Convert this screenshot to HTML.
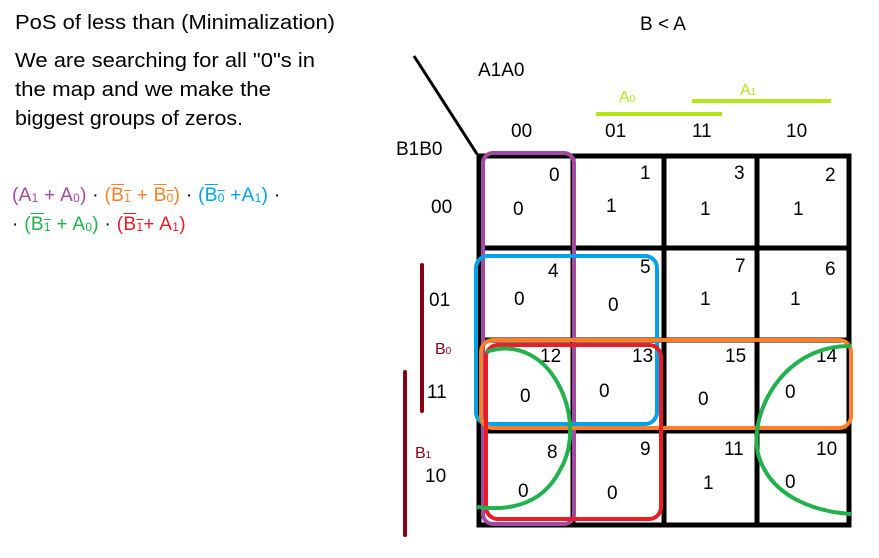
<!DOCTYPE html>
<html><head><meta charset="utf-8"><style>
body{margin:0;background:#fff;width:879px;height:558px;overflow:hidden;font-family:"Liberation Sans",sans-serif;position:relative}
svg text{font-family:"Liberation Sans",sans-serif}
.f{position:absolute;left:12px;font-size:19px;white-space:nowrap;letter-spacing:0.3px}
.f sub{font-size:12px;vertical-align:-1px}
.o{text-decoration:overline}
</style></head><body>
<svg width="879" height="558" style="position:absolute;left:0;top:0">
<g font-size="20" fill="#000">
<text x="15" y="29" textLength="320" lengthAdjust="spacingAndGlyphs">PoS of less than (Minimalization)</text>
<text x="15" y="67" textLength="300" lengthAdjust="spacingAndGlyphs">We are searching for all "0"s in</text>
<text x="15" y="96" textLength="256" lengthAdjust="spacingAndGlyphs">the map and we make the</text>
<text x="15" y="125" textLength="228" lengthAdjust="spacingAndGlyphs">biggest groups of zeros.</text>
</g>
<g font-size="19">
<text x="640" y="30">B &lt; A</text>
<text x="478" y="76">A1A0</text>
<text x="396" y="155">B1B0</text>
<text x="511" y="137">00</text><text x="605" y="137">01</text><text x="692" y="137">11</text><text x="786" y="137">10</text>
<text x="431" y="213">00</text><text x="429" y="306">01</text><text x="427" y="398">11</text><text x="425" y="482">10</text>
</g>
<line x1="414" y1="56" x2="477" y2="154" stroke="#000" stroke-width="3"/>
<g>
<line x1="596" y1="114" x2="722" y2="114" stroke="#b5e61d" stroke-width="4"/>
<line x1="692" y1="101" x2="831" y2="101" stroke="#b5e61d" stroke-width="4"/>
<text x="619" y="102" fill="#b5e61d" font-size="16">A<tspan font-size="10">0</tspan></text>
<text x="740" y="95" fill="#b5e61d" font-size="16">A<tspan font-size="10">1</tspan></text>
</g>
<g>
<line x1="422" y1="265" x2="422" y2="411" stroke="#880015" stroke-width="4" stroke-linecap="round"/>
<line x1="405" y1="372" x2="405" y2="535" stroke="#880015" stroke-width="4" stroke-linecap="round"/>
<text x="435" y="354" fill="#880015" font-size="16">B<tspan font-size="10">0</tspan></text>
<text x="415" y="458" fill="#880015" font-size="16">B<tspan font-size="10">1</tspan></text>
</g>
<g stroke="#000" stroke-width="5" fill="none">
<rect x="479" y="156" width="370" height="369"/>
<line x1="573" y1="156" x2="573" y2="525"/>
<line x1="664" y1="156" x2="664" y2="525"/>
<line x1="757" y1="156" x2="757" y2="525"/>
<line x1="479" y1="248" x2="849" y2="248"/>
<line x1="479" y1="340" x2="849" y2="340"/>
<line x1="479" y1="431" x2="849" y2="431"/>
</g>
<g font-size="19">
<text x="549" y="181">0</text><text x="640" y="179">1</text><text x="734" y="179">3</text><text x="825" y="181">2</text>
<text x="548" y="277">4</text><text x="640" y="273">5</text><text x="735" y="272">7</text><text x="825" y="275">6</text>
<text x="540" y="362">12</text><text x="632" y="362">13</text><text x="725" y="362">15</text><text x="816" y="362">14</text>
<text x="547" y="458">8</text><text x="640" y="455">9</text><text x="724" y="455">11</text><text x="816" y="455">10</text>
</g>
<g font-size="19">
<text x="513" y="215">0</text><text x="606" y="212">1</text><text x="700" y="215">1</text><text x="793" y="215">1</text>
<text x="514" y="305">0</text><text x="608" y="311">0</text><text x="700" y="305">1</text><text x="790" y="305">1</text>
<text x="520" y="402">0</text><text x="599" y="397">0</text><text x="698" y="405">0</text><text x="785" y="398">0</text>
<text x="518" y="497">0</text><text x="607" y="499">0</text><text x="703" y="489">1</text><text x="785" y="488">0</text>
</g>
<g fill="none" stroke-width="4">
<rect x="483" y="153" width="91" height="371" rx="10" stroke="#a349a4"/>
<rect x="476" y="256" width="181" height="168" rx="12" stroke="#00a2e8"/>
<rect x="481" y="340" width="370" height="88" rx="12" stroke="#ff7f27"/>
<rect x="486" y="345" width="175" height="174" rx="12" stroke="#ed1c24"/>
<path d="M486 352 C550 330 590 420 560 470 C540 510 500 510 477 507" stroke="#22b14c"/>
<path d="M851 346 C780 345 745 420 760 460 C775 500 820 512 851 514" stroke="#22b14c"/>
</g>
</svg>
<div class="f" style="top:185px"><span style="color:#a349a4">(A<sub>1</sub> + A<sub>0</sub>)</span> · <span style="color:#ff7f27">(<span class="o">B<sub>1</sub></span> + <span class="o">B<sub>0</sub></span>)</span> · <span style="color:#00a2e8">(<span class="o">B<sub>0</sub></span> +A<sub>1</sub>)</span> ·</div>
<div class="f" style="top:214px">· <span style="color:#22b14c">(<span class="o">B<sub>1</sub></span> + A<sub>0</sub>)</span> · <span style="color:#ed1c24">(<span class="o">B<sub>1</sub></span>+ A<sub>1</sub>)</span></div>
</body></html>
